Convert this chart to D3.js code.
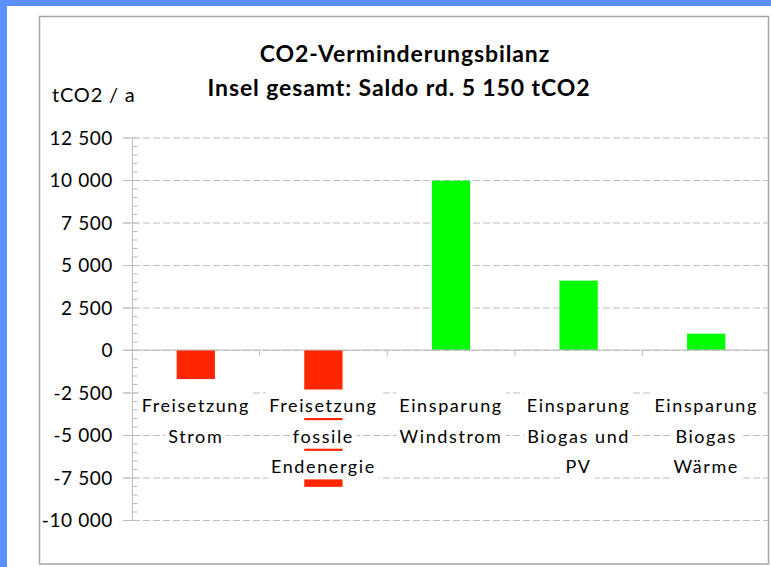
<!DOCTYPE html>
<html>
<head>
<meta charset="utf-8">
<script src="https://cdn.jsdelivr.net/npm/d3@7"></script>
<style>
body { margin: 0; background: #fff; }
svg { display: block; }
text { font-family: Lato, "Open Sans", sans-serif; fill: #000; }
</style>
</head>
<body>
<script>
// data
var categories = [
    ["Freisetzung", "Strom"],
    ["Freisetzung", "fossile", "Endenergie"],
    ["Einsparung", "Windstrom"],
    ["Einsparung", "Biogas und", "PV"],
    ["Einsparung", "Biogas", "Wärme"]
];
var values = [-1710, -8050, 9960, 4080, 960];
var yTicks = [12500, 10000, 7500, 5000, 2500, 0, -2500, -5000, -7500, -10000];
var titleLines = ["CO2-Verminderungsbilanz", "Insel gesamt: Saldo rd. 5 150 tCO2"];
var yLabel = "tCO2 / a";

var keys = categories.map(function (c) { return c.join(" "); });
var data = keys.map(function (k, i) { return {key: k, lines: categories[i], value: values[i]}; });

var W = 771, H = 567;
var plotLeft = 132, plotRight = 768, gridLeft = 123;

var svg = d3.select("body").insert("svg")
    .attr("width", W)
    .attr("height", H);

// frame: blue band top/left, grey inner border
svg.append("rect").attr("x", 0).attr("y", 0).attr("width", W).attr("height", H).style("fill", "#5b8ff9");
svg.append("rect").attr("x", 7).attr("y", 6).attr("width", W - 7).attr("height", H - 6).style("fill", "#fff");
svg.append("rect").attr("x", 39.5).attr("y", 16.5).attr("width", 768.5 - 39.5).attr("height", 564 - 16.5)
    .style("fill", "none").style("stroke", "#a6a6a6").style("stroke-width", 1.5);

var y = d3.scaleLinear().domain([-10000, 12500]).range([520, 137.5]);
var x = d3.scaleBand().domain(keys).range([plotLeft, 770]);

var loc = d3.formatLocale({decimal: ",", thousands: " ", grouping: [3], currency: ["", ""], minus: "-"});
var fmt = loc.format(",d");

// dashed gridlines
var grid = svg.append("g").attr("transform", "translate(" + gridLeft + ",0)")
    .call(d3.axisRight(y).tickValues(yTicks).tickSize(plotRight - gridLeft).tickFormat(""));
grid.select(".domain").remove();
grid.selectAll("line").style("stroke", "#bdbdbd").style("stroke-dasharray", "7,3");

// minor ticks inside
var minor = svg.append("g").attr("transform", "translate(" + plotLeft + ",0)")
    .call(d3.axisRight(y).tickValues(d3.range(-10000, 12501, 500)).tickSize(5.5).tickFormat(""));
minor.select(".domain").remove();
minor.selectAll("line").style("stroke", "#bdbdbd");

// bars
svg.selectAll("rect.bar").data(data).enter().append("rect")
    .attr("class", "bar")
    .attr("x", function (d) { return x(d.key) + x.bandwidth() * 0.35; })
    .attr("width", x.bandwidth() * 0.3)
    .attr("y", function (d) { return y(Math.max(0, d.value)); })
    .attr("height", function (d) { return Math.abs(y(d.value) - y(0)); })
    .style("fill", function (d) { return d.value < 0 ? "#ff2600" : "#00ff00"; });

// y axis with labels
var yAxis = svg.append("g").attr("transform", "translate(" + plotLeft + ",0)")
    .call(d3.axisLeft(y).tickValues(yTicks).tickSize(9).tickSizeOuter(0).tickPadding(10).tickFormat(fmt));
yAxis.select(".domain").style("stroke", "#bdbdbd");
yAxis.selectAll("line").style("stroke", "#bdbdbd");
yAxis.selectAll("text")
    .style("font-size", "19px")
    .style("letter-spacing", "0.6px")
    .style("fill", "#000")
    .attr("dy", "0.36em");

// zero line and category ticks
svg.append("line").attr("x1", gridLeft).attr("x2", plotRight).attr("y1", y(0)).attr("y2", y(0))
    .style("stroke", "#bdbdbd").style("stroke-width", 1.2);
svg.selectAll("line.ctick").data(keys.slice(1)).enter().append("line")
    .attr("class", "ctick")
    .attr("x1", function (k) { return x(k); }).attr("x2", function (k) { return x(k); })
    .attr("y1", y(0)).attr("y2", y(0) + 6)
    .style("stroke", "#bdbdbd");

// category labels with white boxes behind each line
var lineH = 30.7, firstBase = 412;
data.forEach(function (d) {
    var cx = x(d.key) + x.bandwidth() / 2;
    var g = svg.append("g");
    d.lines.forEach(function (t, i) {
        var base = firstBase + i * lineH;
        var box = g.append("rect");
        var txt = g.append("text")
            .attr("x", cx).attr("y", base)
            .attr("text-anchor", "middle")
            .style("font-size", "18px")
            .style("letter-spacing", "1.6px")
            .text(t);
        var w = txt.node().getComputedTextLength();
        box.attr("x", cx - w / 2 - 3).attr("width", w + 6)
            .attr("y", base - 22.5).attr("height", 28.5)
            .style("fill", "#fff");
    });
});

// titles
svg.selectAll("text.title").data(titleLines).enter().append("text")
    .attr("class", "title")
    .attr("x", function (d, i) { return i === 0 ? 405 : 399; })
    .attr("y", function (d, i) { return 61.7 + i * 34.5; })
    .attr("text-anchor", "middle")
    .style("font-size", "23px")
    .style("font-weight", "bold")
    .style("letter-spacing", "0.9px")
    .text(function (d) { return d; });

svg.append("text")
    .attr("x", 52).attr("y", 101.7)
    .style("font-size", "20px")
    .style("letter-spacing", "0.8px")
    .text(yLabel);
</script>
</body>
</html>
